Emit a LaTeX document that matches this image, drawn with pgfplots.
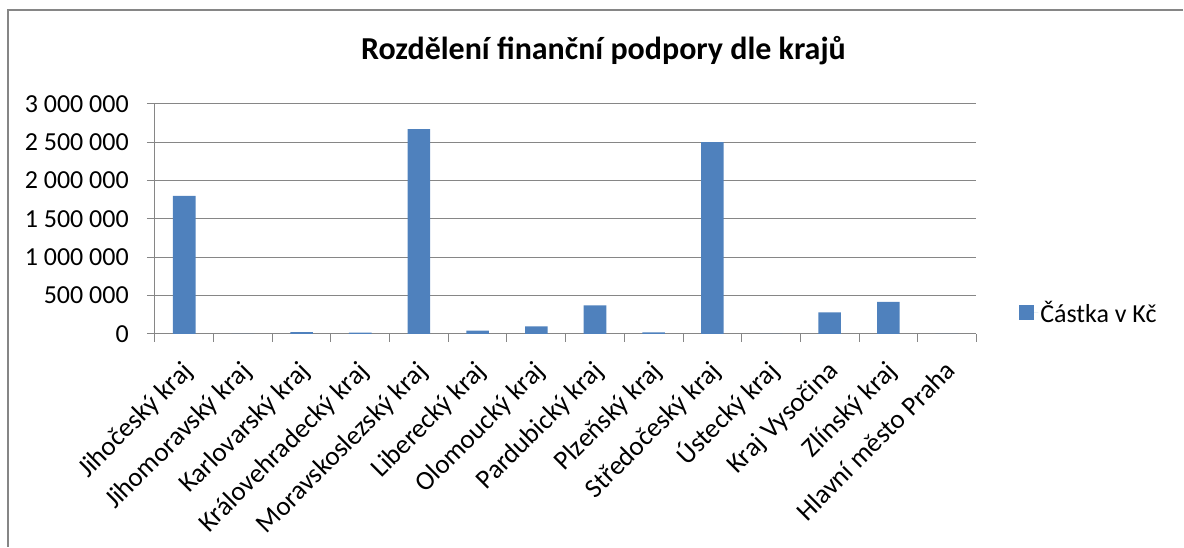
\documentclass[border=0pt]{standalone}
\usepackage{pgfplots}
\pgfplotsset{compat=1.18}
\usepackage{fontspec}
\setmainfont{Carlito}
\definecolor{barblue}{HTML}{4F81BD}
\definecolor{gridgray}{HTML}{868686}
\begin{document}
\begin{tikzpicture}[x=1pt,y=1pt]
\path (0,0) rectangle (1184,547);
\draw[gridgray,line width=1.5pt] (8,0) -- (8,537) -- (1184,537);
\begin{axis}[
  at={(155pt,213pt)}, anchor=south west,
  scale only axis, width=822pt, height=230pt,
  xmin=-0.5, xmax=13.5, ymin=0, ymax=3000000,
  scaled y ticks=false,
  axis x line*=bottom, axis y line*=left,
  axis line style={gridgray, line width=1pt},
  xtick={0,...,13},
  xticklabels={Jihočeský kraj,Jihomoravský kraj,Karlovarský kraj,Královehradecký kraj,Moravskoslezský kraj,Liberecký kraj,Olomoucký kraj,Pardubický kraj,Plzeňský kraj,Středočeský kraj,Ústecký kraj,Kraj Vysočina,Zlínský kraj,Hlavní město Praha},
  minor xtick={-0.5,0.5,...,13.5},
  major x tick style={draw=none},
  minor tick length=8pt,
  tick align=outside,
  minor tick style={gridgray, line width=1pt},
  ytick={0,500000,...,3000000},
  yticklabels={0,500 000,1 000 000,1 500 000,2 000 000,2 500 000,3 000 000},
  major tick length=8pt,
  y tick style={gridgray, line width=1pt},
  ymajorgrids, grid style={gridgray, line width=1pt},
  yticklabel style={font=\fontsize{26}{30}\selectfont, inner sep=0pt, xshift=-18pt, anchor=east},
  xticklabel style={font=\fontsize{27}{31}\selectfont, xshift=8pt, yshift=-29pt, rotate=45, anchor=east, inner sep=0pt, text height=0.75em, text depth=0.25em},
  ybar, bar width=22.6pt,
  title={\fontsize{32}{37}\selectfont\bfseries Rozdělení finanční podpory dle krajů},
  title style={at={(0.546,1.207)}, anchor=center},
  legend style={draw=none, at={(1.052,0.091)}, anchor=west, font=\fontsize{26}{30}\selectfont, inner sep=0pt},
  legend image code/.code={\fill[barblue] (0pt,-7.5pt) rectangle (15pt,7.5pt); \path (0pt,0pt) -- (19pt,0pt);},
  clip=false,
]
\addplot[fill=barblue, draw=none] coordinates {
(0,1800000) (1,0) (2,22000) (3,15000) (4,2670000) (5,40000) (6,96000) (7,372000) (8,18000) (9,2500000) (10,0) (11,280000) (12,415000) (13,0)};
\addlegendentry{Částka v Kč}
\end{axis}
\end{tikzpicture}
\end{document}
